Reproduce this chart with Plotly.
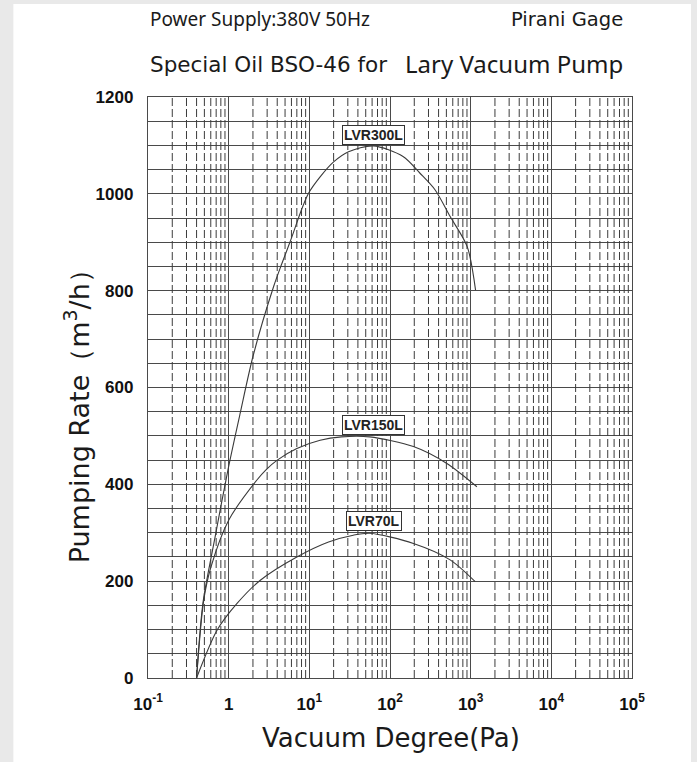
import numpy as np
import plotly.graph_objects as go

# ---- data ----
lvr300_x = [0.40, 0.48, 0.68, 0.98, 1.39, 2.0, 3.6, 4.57, 6.08, 7.71, 9.77, 13.6, 20, 30.6,
            62, 145, 237, 363, 557, 906, 1150]
lvr300_y = [0, 155, 292, 430, 547, 664, 808, 856, 911, 960, 1001, 1035, 1066, 1087,
            1099, 1077, 1042, 1008, 953, 891, 801]

lvr150_x = [0.40, 0.49, 0.60, 1.0, 2.24, 2.9, 4.0, 7.0, 13.6, 25, 56, 195, 507, 1194]
lvr150_y = [0, 160, 228, 326, 409, 430, 450, 474, 491, 498, 498, 478, 443, 395]

lvr70_x = [0.40, 0.72, 1.27, 2.47, 7.0, 17.3, 35, 56, 195, 557, 1138]
lvr70_y = [0, 99, 154, 202, 250, 281, 295, 299, 278, 244, 199]

series_names = ["LVR300L", "LVR150L", "LVR70L"]
label_x = [63, 63, 63]
label_y = [1121, 522, 324]

x_tickvals = [0.1, 1, 10, 100, 1000, 10000, 100000]
x_ticktext = ["10<sup>-1</sup>", "1", "10<sup>1</sup>", "10<sup>2</sup>",
              "10<sup>3</sup>", "10<sup>4</sup>", "10<sup>5</sup>"]
y_tickvals = [0, 200, 400, 600, 800, 1000, 1200]

GRID = "#4a4a4a"
CURVE = "#3a3a3a"

fig = go.Figure()

# minor (dashed) vertical grid lines at 2..9 x 10^d
gx, gy = [], []
for d in range(-1, 5):
    for k in range(2, 10):
        v = k * 10.0 ** d
        gx += [v, v, None]
        gy += [0, 1200, None]
fig.add_trace(go.Scatter(x=gx, y=gy, mode="lines", hoverinfo="skip",
                         line=dict(color="#3c3c3c", width=1, dash="8px,3px"),
                         showlegend=False))

for xs, ys in [(lvr300_x, lvr300_y), (lvr150_x, lvr150_y), (lvr70_x, lvr70_y)]:
    fig.add_trace(go.Scatter(x=xs, y=ys, mode="lines",
                             line=dict(color=CURVE, width=1.1, shape="spline", smoothing=0.8),
                             showlegend=False))

for name, lx, ly in zip(series_names, label_x, label_y):
    fig.add_annotation(x=np.log10(lx), y=ly, xref="x", yref="y", text="<b>" + name + "</b>",
                       showarrow=False, bgcolor="white", bordercolor="#333333", borderwidth=1,
                       borderpad=1,
                       font=dict(family="Liberation Sans Narrow, Arial Narrow, sans-serif",
                                 size=14, color="#222222"))

# white panel on grey background
L, T, W, H = 147.7, 97.0, 484.3, 581.0
def px(x):
    return (x - L) / W
def py(y):
    return (T + H - y) / H

fig.add_shape(type="rect", xref="paper", yref="paper", x0=px(13), x1=px(691),
              y0=py(770), y1=py(4), fillcolor="white", line=dict(width=0), layer="below")

NOTO = "Noto Sans, Open Sans, sans-serif"
DEJA = "DejaVu Sans, Noto Sans, sans-serif"
TC = "#1a1a1a"
fig.add_annotation(xref="paper", yref="paper", x=px(148), y=py(19), xanchor="left", yanchor="middle",
                   text="Power Supply:380V 50Hz", showarrow=False,
                   font=dict(family=NOTO, size=19, color=TC))
fig.add_annotation(xref="paper", yref="paper", x=px(625), y=py(19), xanchor="right", yanchor="middle",
                   text="Pirani Gage", showarrow=False, font=dict(family=DEJA, size=19.5, color=TC))
fig.add_annotation(xref="paper", yref="paper", x=px(148), y=py(64), xanchor="left", yanchor="middle",
                   text="Special Oil BSO-46 for", showarrow=False,
                   font=dict(family=DEJA, size=21.5, color=TC))
fig.add_annotation(xref="paper", yref="paper", x=px(625), y=py(63), xanchor="right", yanchor="middle",
                   text="Lary Vacuum Pump", showarrow=False,
                   font=dict(family=NOTO, size=24, color=TC))
fig.add_annotation(xref="paper", yref="paper", x=px(391), y=py(738), xanchor="center", yanchor="middle",
                   text="Vacuum Degree(Pa)", showarrow=False, font=dict(family=DEJA, size=26, color=TC))
fig.add_annotation(xref="paper", yref="paper", x=px(76), y=py(410), xanchor="center", yanchor="middle",
                   text="Pumping Rate（m<sup>3</sup>/h）", textangle=-90, showarrow=False,
                   font=dict(family=DEJA, size=27, color=TC))

tick_font = dict(family="Liberation Sans Narrow, Arial Narrow, Liberation Sans, sans-serif",
                 size=17, color="#111111", weight="bold")

fig.update_layout(
    width=697, height=762,
    margin=dict(l=148, r=65, t=97, b=84),
    paper_bgcolor="#e9e9e9",
    plot_bgcolor="white",
    xaxis=dict(type="log", range=[-1, 5], tickvals=x_tickvals, ticktext=x_ticktext,
               showgrid=True, gridcolor=GRID, gridwidth=1.4,
               showline=True, linecolor=GRID, linewidth=1.4, mirror=True,
               ticks="", ticklabelstandoff=10, zeroline=False,
               tickfont=tick_font),
    yaxis=dict(range=[0, 1200], tickvals=y_tickvals,
               showgrid=True, gridcolor=GRID, gridwidth=1.4,
               minor=dict(dtick=50, showgrid=True, gridcolor=GRID, gridwidth=1.4),
               showline=True, linecolor=GRID, linewidth=1.4, mirror=True,
               ticks="", ticklabelstandoff=10, zeroline=False,
               tickfont=tick_font),
)

fig.write_html("out.html", config={"displayModeBar": False},
               post_script="document.body.style.margin='0';document.body.style.background='#e9e9e9';")
